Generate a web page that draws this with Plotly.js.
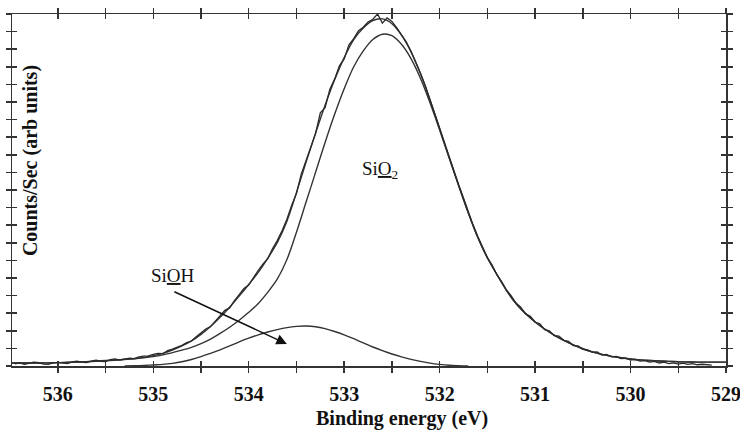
<!DOCTYPE html>
<html>
<head>
<meta charset="utf-8">
<script src="https://cdn.plot.ly/plotly-3.0.1.min.js"></script>
<style>html,body{margin:0;padding:0;background:#fff;}#chart{width:740px;height:431px;}</style>
</head>
<body>
<div id="chart"></div>
<script>
// Binding energy grid starts / steps (eV) for each series
const envStart = 536.5, envStep = -0.1;
const siohStart = 535.3, siohStep = -0.1;
const rawStart = 536.45, rawStep = -0.05;

// Envelope (fit sum), 536.5 -> 529.0 eV
const envelope = [0.17,0.17,0.17,0.17,0.18,0.19,0.21,0.23,0.25,0.28,
0.31,0.34,0.38,0.42,0.49,0.59,0.72,0.91,1.14,1.43,
1.80,2.25,2.77,3.34,3.97,4.63,5.32,6.13,7.02,8.23,
9.85,11.57,13.23,14.82,16.26,17.52,18.55,19.21,19.63,19.72,
19.45,18.8,17.85,16.6,15.1,13.5,11.85,10.25,8.7,7.3,
6.15,5.2,4.3,3.55,2.98,2.5,2.1,1.75,1.45,1.2,
0.98,0.8,0.66,0.55,0.47,0.40,0.35,0.31,0.28,0.26,
0.24,0.23,0.22,0.22,0.22,0.22];

// SiO2 component, 536.5 -> 529.0 eV
const sio2 = [0.17,0.17,0.17,0.17,0.18,0.19,0.20,0.22,0.24,0.27,
0.30,0.33,0.37,0.41,0.46,0.53,0.63,0.76,0.90,1.06,
1.27,1.53,1.85,2.20,2.60,3.05,3.55,4.20,4.95,6.05,
7.60,9.30,11.0,12.7,14.3,15.75,17.0,17.9,18.55,18.85,
18.77,18.28,17.47,16.34,14.94,13.41,11.81,10.23,8.70,7.30,
6.15,5.2,4.3,3.55,2.98,2.5,2.1,1.75,1.45,1.2,
0.98,0.8,0.66,0.55,0.47,0.40,0.35,0.31,0.28,0.26,
0.24,0.23,0.22,0.22,0.22,0.22];

// SiOH component, 535.3 -> 531.7 eV
const sioh = [0,0.01,0.03,0.06,0.09,0.15,0.24,0.37,0.53,0.72,
0.92,1.14,1.37,1.58,1.77,1.93,2.07,2.18,2.25,2.27,
2.23,2.12,1.96,1.77,1.55,1.31,1.08,0.87,0.68,0.52,
0.38,0.26,0.16,0.09,0.04,0.015,0];

// Raw measured counts, 536.45 -> 529.15 eV
const raw = [0.12,0.18,0.10,0.14,0.22,0.19,0.11,0.09,0.18,0.21,
0.16,0.14,0.24,0.27,0.22,0.20,0.28,0.33,0.27,0.25,
0.36,0.40,0.33,0.39,0.45,0.42,0.52,0.56,0.58,0.66,
0.72,0.70,0.88,0.96,1.06,1.18,1.33,1.42,1.66,1.86,
2.10,2.24,2.55,2.86,3.16,3.30,3.72,4.06,4.40,4.60,
5.06,5.44,5.80,6.10,6.68,7.14,7.70,8.34,9.14,9.80,
10.90,11.70,12.50,13.20,14.38,14.68,15.72,16.30,17.05,17.45,
18.25,18.60,19.05,19.25,19.55,19.70,20.0,19.48,19.78,19.58,
19.22,18.80,18.42,17.88,17.30,16.62,15.92,15.10,14.38,13.52,
12.74,11.92,11.12,10.28,9.55,8.74,8.02,7.36,6.78,6.16,
5.74,5.18,4.80,4.32,3.98,3.58,3.34,2.96,2.82,2.50,
2.40,2.06,2.00,1.72,1.70,1.46,1.40,1.16,1.14,0.95,
0.92,0.78,0.80,0.62,0.66,0.52,0.54,0.42,0.44,0.34,
0.38,0.28,0.30,0.22,0.26,0.17,0.22,0.14,0.18,0.11,
0.16,0.09,0.13,0.07,0.10,0.06,0.05];

// Axis ticks
const xTickVals = [536.5,536,535.5,535,534.5,534,533.5,533,532.5,532,531.5,531,530.5,530,529.5,529];
const xTickText = ['','536','','535','','534','','533','','532','','531','','530','','529'];
const xRange = [536.48, 529.0];
const yRange = [0, 20];

const lineCol = '#333333';
const serif = '"Liberation Serif", "Times New Roman", serif';

const traces = [
  {x0: siohStart, dx: siohStep, y: sioh, type: 'scatter', mode: 'lines', line: {color: lineCol, width: 1.4, shape: 'spline'}, hoverinfo: 'skip'},
  {x0: envStart, dx: envStep, y: sio2, type: 'scatter', mode: 'lines', line: {color: lineCol, width: 1.4, shape: 'spline'}, hoverinfo: 'skip'},
  {x0: envStart, dx: envStep, y: envelope, type: 'scatter', mode: 'lines', line: {color: lineCol, width: 1.4, shape: 'spline'}, hoverinfo: 'skip'},
  {x0: rawStart, dx: rawStep, y: raw, type: 'scatter', mode: 'lines', line: {color: '#2a2a2a', width: 1.3}, hoverinfo: 'skip'},
  {x: [], y: [], xaxis: 'x2', yaxis: 'y2', type: 'scatter', mode: 'lines', hoverinfo: 'skip'}
];

const axBase = {showline: true, linecolor: lineCol, linewidth: 1.5, mirror: 'ticks', ticklen: 5, tickwidth: 1.5, tickcolor: lineCol, showgrid: false, zeroline: false, fixedrange: true};

const layout = {
  width: 740, height: 431,
  margin: {l: 12, r: 14, t: 14, b: 65},
  paper_bgcolor: '#ffffff', plot_bgcolor: '#ffffff',
  showlegend: false,
  xaxis: Object.assign({}, axBase, {range: xRange, autorange: false, tickmode: 'array', tickvals: xTickVals, ticktext: xTickText, ticks: 'outside', ticklabelstandoff: 4, ticklabeloverflow: 'allow', tickfont: {family: serif, size: 20, color: '#111', weight: 'bold'}}),
  xaxis2: Object.assign({}, axBase, {range: xRange, autorange: false, tickmode: 'array', tickvals: xTickVals, ticks: 'inside', showticklabels: false, overlaying: 'x', anchor: 'y'}),
  yaxis: Object.assign({}, axBase, {range: yRange, autorange: false, dtick: 1, tick0: 0, ticks: 'outside', showticklabels: false}),
  yaxis2: Object.assign({}, axBase, {range: yRange, autorange: false, dtick: 1, tick0: 0, ticks: 'inside', showticklabels: false, overlaying: 'y', anchor: 'x'}),
  annotations: [
    {xref: 'paper', yref: 'paper', x: 0.0252, y: 0.585, text: 'Counts/Sec (arb units)', textangle: -90, showarrow: false, font: {family: serif, size: 20, color: '#111', weight: 'bold'}, xanchor: 'center', yanchor: 'middle'},
    {xref: 'paper', yref: 'paper', x: 0.546, y: -0.15, text: 'Binding energy (eV)', showarrow: false, font: {family: serif, size: 20, color: '#111', weight: 'bold'}, xanchor: 'center', yanchor: 'middle'},
    {xref: 'paper', yref: 'paper', x: 0.5154, y: 0.5568, text: 'Si<u>O</u><sub>2</sub>', showarrow: false, font: {family: serif, size: 19, color: '#111'}, xanchor: 'center', yanchor: 'middle'},
    {xref: 'paper', yref: 'paper', x: 0.2255, y: 0.2557, text: 'Si<u>O</u>H', showarrow: false, font: {family: serif, size: 19, color: '#111'}, xanchor: 'center', yanchor: 'middle'},
    {xref: 'paper', yref: 'paper', x: 0.385, y: 0.0625, text: '', showarrow: true, arrowhead: 2, arrowsize: 1.4, arrowwidth: 1.5, arrowcolor: '#111', ax: -114, ay: -53}
  ]
};

Plotly.newPlot('chart', traces, layout, {staticPlot: true, displayModeBar: false});
</script>
</body>
</html>
